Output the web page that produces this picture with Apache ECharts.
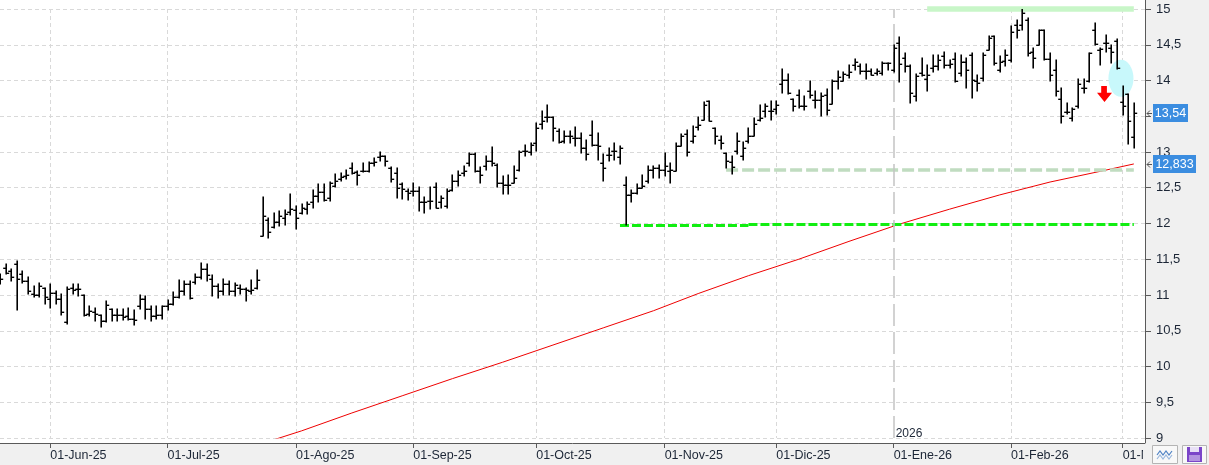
<!DOCTYPE html>
<html><head><meta charset="utf-8">
<script src="https://cdn.jsdelivr.net/npm/echarts@6/dist/echarts.min.js"></script>
<style>html,body{margin:0;padding:0;background:#fff;overflow:hidden}#c{width:1209px;height:465px}</style>
</head><body><div id="c"></div>
<script>
// trading days (category axis)
const dates = [
"2025-05-20","2025-05-21","2025-05-22","2025-05-23","2025-05-26","2025-05-27","2025-05-28","2025-05-29","2025-05-30",
"2025-06-02","2025-06-03","2025-06-04","2025-06-05","2025-06-06","2025-06-09","2025-06-10","2025-06-11","2025-06-12","2025-06-13","2025-06-16","2025-06-17","2025-06-18","2025-06-19","2025-06-20","2025-06-23","2025-06-24","2025-06-25","2025-06-26","2025-06-27","2025-06-30",
"2025-07-01","2025-07-02","2025-07-03","2025-07-04","2025-07-07","2025-07-08","2025-07-09","2025-07-10","2025-07-11","2025-07-14","2025-07-15","2025-07-16","2025-07-17","2025-07-18","2025-07-21","2025-07-22","2025-07-23","2025-07-24","2025-07-25","2025-07-28","2025-07-29","2025-07-30","2025-07-31",
"2025-08-01","2025-08-04","2025-08-05","2025-08-06","2025-08-07","2025-08-08","2025-08-11","2025-08-12","2025-08-13","2025-08-14","2025-08-15","2025-08-18","2025-08-19","2025-08-20","2025-08-21","2025-08-22","2025-08-25","2025-08-26","2025-08-27","2025-08-28","2025-08-29",
"2025-09-01","2025-09-02","2025-09-03","2025-09-04","2025-09-05","2025-09-08","2025-09-09","2025-09-10","2025-09-11","2025-09-12","2025-09-15","2025-09-16","2025-09-17","2025-09-18","2025-09-19","2025-09-22","2025-09-23","2025-09-24","2025-09-25","2025-09-26","2025-09-29","2025-09-30",
"2025-10-01","2025-10-02","2025-10-03","2025-10-06","2025-10-07","2025-10-08","2025-10-09","2025-10-10","2025-10-13","2025-10-14","2025-10-15","2025-10-16","2025-10-17","2025-10-20","2025-10-21","2025-10-22","2025-10-23","2025-10-24","2025-10-27","2025-10-28","2025-10-29","2025-10-30","2025-10-31",
"2025-11-03","2025-11-04","2025-11-05","2025-11-06","2025-11-07","2025-11-10","2025-11-11","2025-11-12","2025-11-13","2025-11-14","2025-11-17","2025-11-18","2025-11-19","2025-11-20","2025-11-21","2025-11-24","2025-11-25","2025-11-26","2025-11-27","2025-11-28",
"2025-12-01","2025-12-02","2025-12-03","2025-12-04","2025-12-05","2025-12-08","2025-12-09","2025-12-10","2025-12-11","2025-12-12","2025-12-15","2025-12-16","2025-12-17","2025-12-18","2025-12-19","2025-12-22","2025-12-23","2025-12-24","2025-12-29","2025-12-30","2025-12-31",
"2026-01-02","2026-01-05","2026-01-06","2026-01-07","2026-01-08","2026-01-09","2026-01-12","2026-01-13","2026-01-14","2026-01-15","2026-01-16","2026-01-19","2026-01-20","2026-01-21","2026-01-22","2026-01-23","2026-01-26","2026-01-27","2026-01-28","2026-01-29","2026-01-30",
"2026-02-02","2026-02-03","2026-02-04","2026-02-05","2026-02-06","2026-02-09","2026-02-10","2026-02-11","2026-02-12","2026-02-13","2026-02-16","2026-02-17","2026-02-18","2026-02-19","2026-02-20","2026-02-23","2026-02-24","2026-02-25","2026-02-26","2026-02-27",
"2026-03-02","2026-03-03","2026-03-04"];
const padDates = ["2026-03-05","2026-03-06"];

const open = [11.25,11.38,11.33,11.44,11.30,11.20,11.02,11.00,11.10,10.95,11.03,10.95,10.62,11.10,11.09,11.00,10.74,10.76,10.72,10.63,10.80,10.72,10.72,10.70,10.67,10.84,10.95,10.80,10.70,10.72,
10.84,10.88,10.97,11.05,11.15,11.18,11.25,11.37,11.23,11.12,11.05,11.15,11.05,11.10,11.09,11.05,11.10,11.83,12.05,11.95,12.02,12.08,12.16,
12.19,12.15,12.20,12.30,12.38,12.44,12.35,12.52,12.62,12.66,12.78,12.72,12.73,12.74,12.84,12.93,12.94,12.78,12.70,12.55,12.45,
12.46,12.45,12.30,12.31,12.51,12.30,12.25,12.47,12.60,12.70,12.85,12.97,12.73,12.80,12.87,12.82,12.57,12.54,12.57,12.75,13.01,13.00,
13.13,13.39,13.49,13.49,13.29,13.15,13.22,13.20,13.20,13.06,13.24,13.10,12.84,12.96,13.02,12.93,12.54,12.40,12.43,12.50,12.60,12.75,12.77,
12.75,12.73,12.73,13.09,13.25,13.15,13.35,13.45,13.71,13.33,13.17,12.98,12.86,13.01,12.95,13.15,13.23,13.45,13.57,13.58,
13.60,13.95,14.01,13.74,13.80,13.65,13.85,13.73,13.73,13.80,13.67,14.00,13.99,14.08,14.22,14.20,14.13,14.13,14.10,14.10,14.24,
14.14,14.53,14.31,14.20,13.78,14.11,14.02,14.17,14.20,14.34,14.22,14.30,14.10,14.26,14.36,14.00,14.03,14.43,14.62,14.14,14.27,
14.28,14.78,14.78,14.85,14.40,14.50,14.71,14.30,14.14,13.74,13.56,13.47,13.64,13.90,13.99,14.70,14.42,14.52,14.45,14.55,
13.70,13.81,13.21];
const high = [11.30,11.44,11.36,11.47,11.33,11.25,11.12,11.17,11.10,11.16,11.06,11.01,11.11,11.15,11.15,11.00,10.84,10.82,10.72,10.92,10.80,10.80,10.81,10.82,10.79,11.00,10.99,10.84,10.84,10.85,
10.93,11.04,11.21,11.19,11.19,11.30,11.45,11.43,11.28,11.15,11.22,11.20,11.17,11.14,11.10,11.21,11.35,12.375,12.08,12.14,12.18,12.19,12.41,
12.25,12.27,12.30,12.47,12.555,12.555,12.58,12.69,12.70,12.75,12.85,12.73,12.85,12.86,12.92,12.995,12.95,12.79,12.78,12.57,12.48,
12.57,12.51,12.375,12.51,12.57,12.38,12.48,12.68,12.74,12.81,12.99,12.99,12.79,12.94,13.07,12.83,12.66,12.68,12.80,13.01,13.10,13.13,
13.41,13.58,13.66,13.49,13.32,13.29,13.29,13.35,13.27,13.17,13.44,13.26,12.97,13.05,13.12,13.08,12.65,12.47,12.55,12.68,12.81,12.80,12.82,
12.99,12.85,13.13,13.25,13.31,13.36,13.49,13.70,13.72,13.33,13.22,12.98,12.94,13.26,13.14,13.33,13.47,13.66,13.67,13.71,
13.72,14.16,14.09,13.74,13.87,13.78,13.995,13.85,13.83,13.88,14.01,14.13,14.12,14.22,14.30,14.23,14.23,14.16,14.16,14.26,14.25,
14.49,14.61,14.38,14.21,14.09,14.32,14.21,14.36,14.36,14.40,14.28,14.39,14.36,14.31,14.39,14.07,14.39,14.62,14.62,14.34,14.42,
14.76,14.85,15.00,14.87,14.46,14.71,14.71,14.39,14.29,13.89,13.69,13.61,14.02,14.02,14.39,14.81,14.46,14.64,14.50,14.58,
13.92,13.81,13.68];
const low = [11.15,11.30,11.20,10.79,11.17,11.02,10.97,10.97,10.87,10.82,10.87,10.72,10.59,11.02,10.98,10.71,10.70,10.64,10.55,10.62,10.64,10.64,10.65,10.65,10.58,10.80,10.67,10.64,10.67,10.67,
10.79,10.86,10.96,11.00,10.95,11.15,11.22,11.19,10.99,10.96,11.00,11.00,10.98,11.02,10.92,11.02,11.09,11.82,11.80,11.94,11.97,11.98,12.12,
11.92,12.13,12.13,12.22,12.30,12.31,12.32,12.51,12.59,12.625,12.69,12.54,12.72,12.72,12.81,12.87,12.81,12.58,12.35,12.34,12.33,
12.38,12.17,12.15,12.20,12.22,12.22,12.21,12.45,12.53,12.66,12.80,12.72,12.57,12.75,12.81,12.51,12.41,12.41,12.57,12.73,12.95,12.96,
13.01,13.32,13.42,13.16,13.13,13.13,13.12,13.08,12.99,12.89,13.09,12.89,12.60,12.87,12.89,12.83,11.98,12.30,12.41,12.50,12.57,12.64,12.64,
12.67,12.57,12.73,13.09,12.95,13.13,13.31,13.45,13.44,13.11,13.04,12.78,12.69,12.97,12.89,13.13,13.23,13.43,13.49,13.45,
13.53,13.83,13.81,13.57,13.62,13.59,13.76,13.61,13.50,13.52,13.67,13.88,13.99,14.04,14.14,14.09,14.02,14.07,14.07,14.08,14.14,
14.12,13.98,14.12,13.69,13.71,14.06,13.86,14.12,14.15,14.17,14.17,13.98,14.06,13.89,13.76,13.86,14.00,14.43,14.22,14.12,14.20,
14.26,14.60,14.70,14.34,14.17,14.50,14.29,14.00,13.79,13.40,13.53,13.43,13.62,13.83,13.98,14.50,14.21,14.40,14.25,14.16,
13.52,13.11,13.05];
const close = [11.22,11.31,11.25,11.22,11.20,11.05,11.00,11.12,10.97,11.03,10.95,10.76,11.08,11.07,11.08,10.72,10.78,10.74,10.63,10.86,10.72,10.72,10.69,10.67,10.65,10.95,10.80,10.70,10.72,10.84,
10.88,10.97,11.05,11.15,10.96,11.25,11.37,11.28,11.12,11.05,11.15,11.05,11.14,11.09,11.07,11.07,11.21,12.11,11.88,12.02,12.10,12.13,12.20,
12.07,12.22,12.27,12.38,12.44,12.33,12.56,12.60,12.65,12.685,12.71,12.68,12.73,12.84,12.86,12.94,12.88,12.62,12.49,12.48,12.42,
12.45,12.305,12.305,12.31,12.22,12.36,12.46,12.60,12.68,12.73,12.97,12.73,12.68,12.87,12.85,12.57,12.54,12.54,12.64,13.00,13.01,13.10,
13.33,13.43,13.49,13.34,13.14,13.22,13.23,13.20,13.06,12.97,13.10,13.08,12.77,12.96,13.02,13.06,12.40,12.43,12.50,12.53,12.75,12.77,12.75,
12.80,12.75,13.08,13.22,13.00,13.22,13.38,13.66,13.44,13.23,13.12,12.88,12.79,13.15,13.06,13.23,13.39,13.47,13.65,13.58,
13.66,14.01,13.82,13.65,13.64,13.65,13.80,13.73,13.79,13.59,14.00,14.05,14.09,14.12,14.26,14.13,14.13,14.08,14.13,14.24,14.24,
14.45,14.23,14.20,13.82,14.06,14.07,14.07,14.20,14.29,14.21,14.23,14.00,14.26,14.14,14.01,13.96,14.35,14.60,14.25,14.26,14.35,
14.68,14.71,14.95,14.38,14.31,14.70,14.30,14.07,13.85,13.50,13.56,13.60,13.95,13.90,14.38,14.51,14.44,14.52,14.40,14.17,
13.65,13.44,13.54];
// red moving average, read at selected bars: [bar index, value]
const maPoints = [[46,8.90],[54,9.10],[63,9.35],[72,9.59],[81,9.83],[90,10.06],[99,10.30],[108,10.54],[117,10.78],[125,11.02],[134,11.27],[143,11.50],[152,11.75],[161,11.99],[170,12.20],[179,12.40],[188,12.58],[197,12.73],[203,12.833]];
const monthNames = ['Ene','Feb','Mar','Abr','May','Jun','Jul','Ago','Sep','Oct','Nov','Dic'];
const yearMarkDate = "2026-01-02";
const yearLabel = "2026";
// drawn annotation levels: [startIndex, endIndex, price]
const topBand = [166, 203, 15.0];
const sageSupport = [130, 203, 12.745];
const greenSupportA = [111, 134, 11.977];
const greenSupportB = [134, 203, 11.993];
const circleMark = [201, 14.03];
const arrowMark = [198, 13.81];

const categories = dates.concat(padDates);
function isMonthStart(i){ return i>0 && i<dates.length && dates[i].slice(0,7)!==dates[i-1].slice(0,7); }
function gridFn(i){ return isMonthStart(i) && dates[i]!==yearMarkDate; }
function labelFmt(v){
  const m = +v.slice(5,7), y = v.slice(2,4);
  return '01-' + monthNames[m-1] + '-' + y;
}
const FONT = 'Liberation Sans';
const chart = echarts.init(document.getElementById('c'), null, {renderer:'canvas'});
const ohlc = dates.map((d,i)=>[i, open[i], high[i], low[i], close[i]]);

const option = {
  animation:false,
  backgroundColor:'#ffffff',
  textStyle:{fontFamily:FONT},
  grid:{left:-1.33, right:64, top:9, bottom:27, containLabel:false},
  xAxis:{
    type:'category', data:categories, boundaryGap:false, offset:5,
    axisLine:{show:true, lineStyle:{color:'#5a5a5a', width:1}},
    axisTick:{show:true, interval:(i)=>isMonthStart(i), length:5, lineStyle:{color:'#5a5a5a'}},
    axisLabel:{show:true, interval:(i)=>isMonthStart(i), formatter:(v)=>labelFmt(v), align:'left', margin:6,
      color:'#1c2636', fontSize:12.5, fontFamily:FONT, padding:[0,0,0,0], hideOverlap:false},
    splitLine:{show:true, interval:(i)=>gridFn(i), lineStyle:{color:'#d9d9d9', width:1, type:[4,3]}}
  },
  yAxis:{
    type:'value', position:'right', min:9, max:15, interval:0.5,
    axisLine:{show:false},
    axisTick:{show:true, length:6, lineStyle:{color:'#5a5a5a'}},
    axisLabel:{margin:11, color:'#1c2636', fontSize:13, fontFamily:FONT, formatter:(v)=>String(v).replace('.',',')},
    splitLine:{show:true, lineStyle:{color:'#d9d9d9', width:1, type:[4,3]}}
  },
  series:[
    {
      type:'line', name:'MA', data:maPoints, symbol:'none', z:2, clip:true,
      lineStyle:{color:'#ee0000', width:1},
      markLine:{
        silent:true, symbol:['none','none'], label:{show:false}, animation:false,
        emphasis:{disabled:true},
        data:[
          [{coord:[topBand[0], topBand[2]], lineStyle:{color:'#c8f6c8', width:5.5, type:'solid'}}, {coord:[topBand[1], topBand[2]]}],
          [{coord:[sageSupport[0], sageSupport[2]], lineStyle:{color:'#c0dcc0', width:3.5, type:[12,4]}}, {coord:[sageSupport[1], sageSupport[2]]}],
          [{coord:[greenSupportA[0], greenSupportA[2]], lineStyle:{color:'#11ee11', width:3, type:[9,3]}}, {coord:[greenSupportA[1], greenSupportA[2]]}],
          [{coord:[greenSupportB[0], greenSupportB[2]], lineStyle:{color:'#11ee11', width:3, type:[9,3]}}, {coord:[greenSupportB[1], greenSupportB[2]]}],
          {xAxis:yearMarkDate, lineStyle:{color:'#c4c4c4', width:1.5, type:[22,6]}}
        ]
      },
      markPoint:{
        silent:true, label:{show:false}, animation:false,
        data:[
          {coord:circleMark, symbol:'circle', symbolSize:[25,37], symbolOffset:[-1.7,0], itemStyle:{color:'#c8f8fb'}},
          {coord:arrowMark, symbol:'path://M4.2,0 L9.9,0 L9.9,6.6 L15,6.6 L7.5,16 L0,6.6 L4.2,6.6 Z', symbolSize:[15,16], symbolOffset:[-1.4,0], itemStyle:{color:'#ff0000'}}
        ]
      }
    },
    {
      type:'custom', name:'OHLC', z:5, clip:true,
      data:ohlc,
      encode:{x:0, y:[1,2,3,4]},
      renderItem:function(params, api){
        const i = api.value(0);
        const pH = api.coord([i, api.value(2)]);
        const pL = api.coord([i, api.value(3)]);
        const pO = api.coord([i, api.value(1)]);
        const pC = api.coord([i, api.value(4)]);
        const x = Math.round(pH[0]) + 0.2;
        const stV = {stroke:'#000', lineWidth:1.6};
        const stT = {stroke:'#000', lineWidth:1.4};
        const yo = Math.round(pO[1]) + 0.3, yc = Math.round(pC[1]) + 0.3;
        return {type:'group', children:[
          {type:'line', shape:{x1:x, y1:Math.round(pH[1])-0.5, x2:x, y2:Math.round(pL[1])+0.5}, style:stV},
          {type:'line', shape:{x1:x-3, y1:yo, x2:x, y2:yo}, style:stT},
          {type:'line', shape:{x1:x, y1:yc, x2:x+3, y2:yc}, style:stT}
        ]};
      }
    }
  ]
};
chart.setOption(option);

const lastClose = close[close.length-1];
const lastMa = maPoints[maPoints.length-1][1];
const yClose = chart.convertToPixel({yAxisIndex:0}, lastClose);
const yMa = chart.convertToPixel({yAxisIndex:0}, lastMa);
const xYear = chart.convertToPixel({xAxisIndex:0}, yearMarkDate);
const axisX = chart.convertToPixel({xAxisIndex:0}, categories[categories.length-1]);
const gridBottom = chart.convertToPixel({yAxisIndex:0}, 9);

function priceTag(y, txt, w){
  return [
    {type:'rect', shape:{x:1153, y:Math.round(y)-9, width:w, height:18}, style:{fill:'#3b8de0'}, z:20, silent:true},
    {type:'text', style:{text:txt, x:1153+w/2, y:Math.round(y)+0.5, fill:'#ffffff', fontSize:12.5, fontFamily:FONT, align:'center', verticalAlign:'middle'}, z:21, silent:true},
    {type:'polyline', shape:{points:[[1150,Math.round(y)-3+0.5],[1147,Math.round(y)+0.5],[1150,Math.round(y)+3+0.5]]}, style:{stroke:'#555', lineWidth:1, fill:null}, z:21, silent:true},
    {type:'line', shape:{x1:1147, y1:Math.round(y)+0.5, x2:1152, y2:Math.round(y)+0.5}, style:{stroke:'#555', lineWidth:1}, z:21, silent:true}
  ];
}

const g = [
  {type:'rect', shape:{x:axisX, y:0, width:1209-axisX, height:465}, style:{fill:'#f0f0f0'}, z:-10, silent:true},
  {type:'rect', shape:{x:0, y:gridBottom+5, width:1209, height:465-gridBottom-5}, style:{fill:'#f0f0f0'}, z:-10, silent:true},
  {type:'line', shape:{x1:Math.round(axisX)+0.5, y1:0, x2:Math.round(axisX)+0.5, y2:gridBottom+5}, style:{stroke:'#5a5a5a', lineWidth:1}, z:5, silent:true},
  {type:'text', style:{text:yearLabel, x:xYear+2, y:gridBottom+2, fill:'#1c2636', fontSize:12, fontFamily:FONT, align:'left', verticalAlign:'bottom'}, z:6, silent:true},
  // clip of last month label
  {type:'rect', shape:{x:axisX-2, y:gridBottom+6, width:1209-axisX+2, height:465-gridBottom-6}, style:{fill:'#f0f0f0'}, z:15, silent:true},
  // buttons
  {type:'rect', shape:{x:1152.5, y:445.5, width:25, height:18}, style:{fill:'#f8f8f8', stroke:'#b4b4b4', lineWidth:1}, z:16, silent:true},
  {type:'polyline', shape:{points:[[1157,455],[1160,451],[1163,455],[1166,451],[1169,455],[1172,451]]}, style:{stroke:'#4f82c4', lineWidth:1.2, fill:null}, z:17, silent:true},
  {type:'polyline', shape:{points:[[1157,459],[1160,455],[1163,459],[1166,455],[1169,459],[1172,455]]}, style:{stroke:'#9ab8de', lineWidth:1.2, fill:null}, z:17, silent:true},
  {type:'rect', shape:{x:1182.5, y:445.5, width:24, height:18}, style:{fill:'#f8f8f8', stroke:'#b4b4b4', lineWidth:1}, z:16, silent:true},
  {type:'rect', shape:{x:1187, y:447, width:15, height:15}, style:{fill:'#7b45c9'}, z:17, silent:true},
  {type:'rect', shape:{x:1190, y:447, width:9, height:5}, style:{fill:'#e8e0f6'}, z:18, silent:true},
  {type:'rect', shape:{x:1189, y:455, width:11, height:6}, style:{fill:'#b393e0'}, z:18, silent:true}
].concat(priceTag(yClose, lastClose.toFixed(2).replace('.',','), 35))
 .concat(priceTag(yMa, lastMa.toFixed(3).replace('.',','), 43));

chart.setOption({graphic:{elements:g}});
</script>
</body></html>
